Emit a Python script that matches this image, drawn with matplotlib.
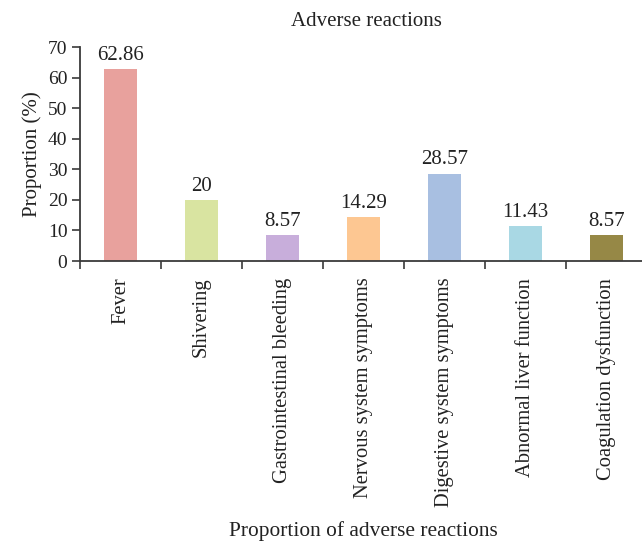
import matplotlib
matplotlib.use("Agg")
import matplotlib.pyplot as plt
import numpy as np

# -- Data --------------------------------------------------------------------
categories = ["Fever", "Shivering", "Gastrointestinal bleeding",
              "Nervous system symptoms", "Digestive system symptoms",
              "Abnormal liver function", "Coagulation dysfunction"]
values = [62.86, 20, 8.57, 14.29, 28.57, 11.43, 8.57]
labels = ["62.86", "20", "8.57", "14.29", "28.57", "11.43", "8.57"]
colors = ["#E8A19D", "#D9E4A1", "#C8AEDB", "#FDC792", "#A8BFE1",
          "#A9D8E4", "#968846"]

AXIS = "#3a3a3a"
TEXT = "#222222"

plt.rcParams["font.family"] = ["Liberation Serif", "DejaVu Serif"]

fig = plt.figure(figsize=(6.42, 5.44), dpi=100)
ax = fig.add_axes([80 / 642, 1 - 261 / 544, 567 / 642, 214 / 544])

x = np.arange(len(categories))
ax.bar(x, values, width=0.41, color=colors, zorder=2)

for xi, v, lab in zip(x, values, labels):
    ax.annotate(lab, (xi, v), xytext=(0, 3), textcoords="offset points",
                ha="center", va="bottom", fontsize=15, color=TEXT)

ax.set_xlim(-0.5, len(categories) - 0.5)
ax.set_ylim(0, 70)
ax.set_yticks(range(0, 71, 10))

# category names centred under bars, tick marks between them
ax.set_xticks(x)
ax.set_xticklabels(categories, rotation=90, ha="center", va="top")
ax.set_xticks(np.arange(len(categories) + 1) - 0.5, minor=True)
ax.tick_params(axis="x", which="major", length=0, pad=12,
               labelsize=14.8, labelcolor=TEXT)
ax.tick_params(axis="x", which="minor", length=6, width=1.2,
               color=AXIS, direction="out")
ax.tick_params(axis="y", length=6, width=1.2, color=AXIS, pad=3,
               labelsize=14, labelcolor=TEXT)

for side in ("top", "right"):
    ax.spines[side].set_visible(False)
for side in ("left", "bottom"):
    ax.spines[side].set_color(AXIS)
    ax.spines[side].set_linewidth(1.3)

ax.set_ylabel("Proportion (%)", fontsize=15, color=TEXT, labelpad=4)
fig.text(366 / 642, 1 - 22 / 544, "Adverse reactions", ha="center",
         va="center", fontsize=15, color=TEXT)
fig.text(363 / 642, 1 - 531 / 544, "Proportion of adverse reactions",
         ha="center", va="center", fontsize=15.4, color=TEXT)

fig.savefig("out.png", dpi=100, facecolor="white")
